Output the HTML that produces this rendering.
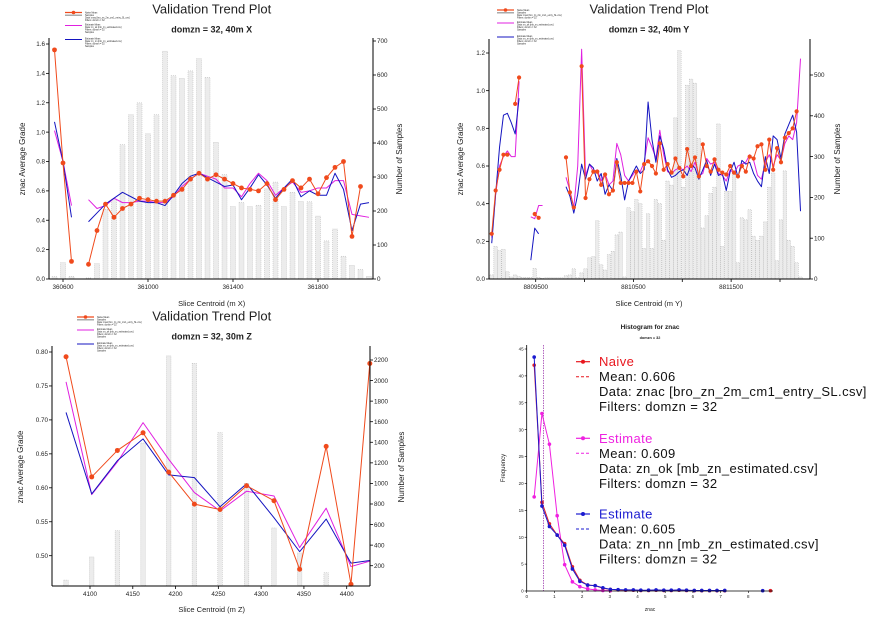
<!DOCTYPE html>
<html><head><meta charset="utf-8"><style>
html,body{margin:0;padding:0;background:#fff}
svg{display:block;font-family:"Liberation Sans",Arial,sans-serif}
</style></head><body>
<svg id="chart" width="876" height="618" viewBox="0 0 876 618" xmlns="http://www.w3.org/2000/svg">
<rect width="876" height="618" fill="#fff"/>
</svg>
<script>
// ---------- Panel 1 (X) data ----------
const p1Cats=[360560,360600,360640,360680,360720,360760,360800,360840,360880,360920,360960,361000,361040,361080,361120,361160,361200,361240,361280,361320,361360,361400,361440,361480,361520,361560,361600,361640,361680,361720,361760,361800,361840,361880,361920,361960,362000,362040];
const p1Bars=[7,48,8,0,3,45,205,235,395,483,518,427,483,670,598,590,612,648,593,402,307,213,225,213,217,265,285,213,255,228,227,185,112,147,67,40,28,8];
const p1Naive=[1.56,0.79,0.12,null,0.10,0.33,0.51,0.42,0.48,0.51,0.55,0.54,0.53,0.53,0.57,0.61,0.68,0.72,0.68,0.71,0.68,0.65,0.62,0.61,0.60,0.65,0.54,0.61,0.67,0.62,0.68,0.58,0.69,0.76,0.80,0.29,0.63,null];
const p1Ok=[1.01,0.80,0.50,null,0.54,0.48,0.50,0.55,0.52,0.52,0.53,0.53,0.52,0.52,0.56,0.63,0.68,0.72,0.70,0.68,0.62,0.62,0.56,0.65,0.72,0.67,0.57,0.62,0.66,0.59,0.60,0.62,0.62,0.67,0.67,0.44,0.43,0.42];
const p1Nn=[1.07,0.80,0.42,null,0.39,0.45,0.51,0.55,0.59,0.56,0.53,0.52,0.52,0.50,0.57,0.65,0.70,0.72,0.69,0.66,0.63,0.64,0.54,0.62,0.71,0.64,0.55,0.62,0.68,0.56,0.60,0.57,0.57,0.72,0.61,0.33,0.51,0.52];
const p1XTicks=[360600,361000,361400,361800];
const p1YTicks=[0,0.2,0.4,0.6,0.8,1.0,1.2,1.4,1.6];
const p1RTicks=[0,100,200,300,400,500,600,700];

// ---------- Panel 2 (Y) data ----------
const p2Cats=[8809050,8809090,8809130,8809170,8809210,8809250,8809290,8809330,8809370,8809410,8809450,8809490,8809530,8809570,8809610,8809650,8809690,8809730,8809770,8809810,8809850,8809890,8809930,8809970,8810010,8810050,8810090,8810130,8810170,8810210,8810250,8810290,8810330,8810370,8810410,8810450,8810490,8810530,8810570,8810610,8810650,8810690,8810730,8810770,8810810,8810850,8810890,8810930,8810970,8811010,8811050,8811090,8811130,8811170,8811210,8811250,8811290,8811330,8811370,8811410,8811450,8811490,8811530,8811570,8811610,8811650,8811690,8811730,8811770,8811810,8811850,8811890,8811930,8811970,8812010,8812050,8812090,8812130,8812170,8812210];
const p2Bars=[10,80,70,73,18,5,10,6,4,4,4,26,4,2,3,3,3,3,3,8,10,25,3,15,25,52,55,143,35,22,60,68,108,115,5,175,165,195,185,75,160,75,195,185,95,240,230,395,560,225,475,490,480,345,125,155,210,225,380,80,215,215,265,40,150,145,170,105,95,105,140,225,260,45,145,265,95,80,40,5];
const p2Naive=[0.24,0.47,0.58,0.66,0.66,null,0.93,1.07,null,null,null,0.345,0.325,null,null,null,null,null,null,0.646,0.46,0.38,null,1.13,0.43,0.53,0.57,0.57,0.50,0.555,0.45,0.47,0.62,0.51,0.51,0.51,0.51,0.57,0.465,0.61,0.625,0.60,0.56,0.72,0.58,0.61,0.565,0.64,0.59,0.545,0.69,0.60,0.645,0.545,0.715,0.60,0.57,0.635,0.58,0.565,0.555,0.60,0.565,0.545,0.60,0.57,0.65,0.64,0.705,0.715,0.58,0.74,0.58,0.695,0.62,0.75,0.775,0.80,0.89,null];
const p2Ok=[0.22,0.45,0.60,0.65,0.68,0.65,0.65,1.05,null,null,0.33,0.32,0.39,0.39,null,null,null,null,null,0.54,0.47,0.38,0.60,1.22,0.55,0.61,0.57,0.58,0.52,0.56,0.50,0.52,0.72,0.66,0.55,0.52,0.55,0.58,0.57,0.62,0.75,0.70,0.64,0.79,0.66,0.57,0.56,0.58,0.59,0.58,0.60,0.57,0.62,0.55,0.56,0.64,0.61,0.62,0.56,0.55,0.52,0.58,0.56,0.60,0.61,0.62,0.66,0.63,0.55,0.53,0.62,0.66,0.60,0.66,0.63,0.72,0.76,0.74,0.83,1.17];
const p2Nn=[0.19,0.45,0.70,0.87,0.88,0.83,0.77,0.96,null,null,0.10,0.27,0.24,null,null,null,null,null,null,0.49,0.44,0.35,0.45,0.61,0.53,0.61,0.59,0.52,0.56,0.45,0.50,0.47,0.64,0.55,0.42,0.52,0.56,0.60,0.56,0.58,0.94,0.74,0.62,0.76,0.69,0.58,0.54,0.55,0.57,0.58,0.55,0.61,0.59,0.53,0.58,0.63,0.55,0.61,0.55,0.56,0.47,0.57,0.62,0.54,0.63,0.61,0.62,0.56,0.52,0.49,0.65,0.56,0.76,0.74,0.64,0.77,0.82,0.87,0.78,0.36];
const p2XTicks=[8809500,8810000,8810500,8811000,8811500,8812000];
const p2XLabels=[8809500,8810500,8811500];
const p2YTicks=[0,0.2,0.4,0.6,0.8,1.0,1.2];
const p2RTicks=[0,100,200,300,400,500];

// ---------- Panel 3 (Z) data ----------
const p3Cats=[4072,4102,4132,4162,4192,4222,4252,4283,4315,4345,4376,4405,4427];
const p3Bars=[60,285,540,1393,2240,2168,1494,1001,567,324,132,20,0];
const p3Naive=[0.793,0.616,0.655,0.681,0.623,0.576,0.568,0.603,0.581,0.480,0.661,0.458,0.783];
const p3Ok=[0.756,0.590,0.638,0.696,0.642,0.593,0.566,0.595,0.588,0.512,0.570,0.484,0.492];
const p3Nn=[0.711,0.591,0.640,0.672,0.619,0.615,0.572,0.606,0.556,0.506,0.554,0.489,0.493];
const p3XTicks=[4100,4150,4200,4250,4300,4350,4400];
const p3YTicks=[0.50,0.55,0.60,0.65,0.70,0.75,0.80];
const p3RTicks=[200,400,600,800,1000,1200,1400,1600,1800,2000,2200];

// ---------- Panel 4 (histogram) data ----------
const hBins=[0.27,0.55,0.82,1.10,1.37,1.65,1.92,2.20,2.47,2.75,3.02,3.30,3.57,3.85,4.12,4.40,4.67,4.95,5.22,5.50,5.77,6.05,6.32,6.60,6.87,7.15,7.42,7.70,7.97,8.25,8.52,8.80];
const hNaive=[42,16.5,12.5,10.4,8.8,4.5,2.0,1.1,1.0,0.5,0.3,0.2,0.15,0.15,0.1,0.1,0.15,0.1,0.1,0.15,0.1,0.05,0.05,0.05,0.05,0.05,null,null,null,null,null,0.05];
const hOk=[17.5,33,27.3,14,4.9,1.7,0.8,0.4,0.2,0.1,0.05,null,null,null,null,null,null,null,null,null,null,null,null,null,null,null,null,null,null,null,null,null];
const hNn=[43.5,15.8,12.0,10.4,8.5,4.1,1.8,1.1,1.0,0.6,0.3,0.25,0.2,0.2,0.15,0.15,0.2,0.15,0.15,0.2,0.15,0.1,0.1,0.1,0.1,0.1,null,null,null,null,0.05,null];
const hMeans=[0.606,0.609,0.605];
const hXTicks=[0,1,2,3,4,5,6,7,8];
const hYTicks=[0,5,10,15,20,25,30,35,40,45];

const NS='http://www.w3.org/2000/svg';
const svg=document.getElementById('chart');
const RED='#f04a1c', MAG='#e020e0', BLUE='#1414c0';
function lin(d0,d1,r0,r1){return v=>r0+(v-d0)/(d1-d0)*(r1-r0);}
function mk(tag,attrs,nm,parent){
  const el=document.createElementNS(NS,tag);
  for(const k in attrs) el.setAttribute(k,attrs[k]);
  
  
  (parent||svg).appendChild(el);
  return el;
}
function txt(x,y,s,size,nm,o){
  o=o||{};
  const a={x:x,y:y,'font-size':size,fill:o.fill||'#222','text-anchor':o.anchor||'middle'};
  if(o.weight)a['font-weight']=o.weight;
  if(o.ls)a['letter-spacing']=o.ls;
  if(o.rot!==undefined)a.transform='rotate('+o.rot+' '+x+' '+y+')';
  const t=mk('text',a,nm,o.parent);
  t.textContent=s;
  return t;
}
function line(x1,y1,x2,y2,stroke,w,nm,parent,dash){
  const a={x1:x1,y1:y1,x2:x2,y2:y2,stroke:stroke,'stroke-width':w};
  if(dash)a['stroke-dasharray']=dash;
  return mk('line',a,nm,parent);
}
function series(cats,vals,xs,ys,color,nm,r,g){
  let d='',pen=false;
  for(let i=0;i<vals.length;i++){
    if(vals[i]===null){pen=false;continue;}
    d+=(pen?'L':'M')+xs(cats[i]).toFixed(2)+' '+ys(vals[i]).toFixed(2);
    pen=true;
  }
  mk('path',{d:d,fill:'none',stroke:color,'stroke-width':1,'stroke-linejoin':'round'},nm+'-line',g);
  if(r){
    for(let i=0;i<vals.length;i++){
      if(vals[i]===null)continue;
      mk('circle',{cx:xs(cats[i]),cy:ys(vals[i]),r:r,fill:color},nm+'-point',g);
    }
  }
}
function tinyLegend(x,y,g){
  const lg=mk('g',{},'series-legend',g);
  line(x,y,x+17,y,RED,1.2,'legend-naive-line',lg);
  mk('circle',{cx:x+8.5,cy:y,r:1.8,fill:RED},'legend-naive-marker',lg);
  mk('rect',{x:x,y:y+2,width:17,height:1.5,fill:'#aaa'},'legend-samples-swatch',lg);
  ['Naive Mean','Samples','Data: znac [bro_zn_2m_cm1_entry_SL.csv]','Filters: domzn = 32'].forEach((s,i)=>txt(x+20,y+1+i*2.5,s,2.3,'legend-naive-text',{anchor:'start',parent:lg}));
  line(x,y+13,x+17,y+13,MAG,1,'legend-ok-line',lg);
  ['Estimate Mean','Data: zn_ok [mb_zn_estimated.csv]','Filters: domzn = 32','Samples'].forEach((s,i)=>txt(x+20,y+13+i*2.5,s,2.3,'legend-ok-text',{anchor:'start',parent:lg}));
  line(x,y+27,x+17,y+27,BLUE,1,'legend-nn-line',lg);
  ['Estimate Mean','Data: zn_nn [mb_zn_estimated.csv]','Filters: domzn = 32','Samples'].forEach((s,i)=>txt(x+20,y+27+i*2.5,s,2.3,'legend-nn-text',{anchor:'start',parent:lg}));
}
function trend(P){
  const g=mk('g',{},P.name);
  const bg=mk('g',{},'sample-count-bars',g);
  const y0=P.yR(0);
  for(let i=0;i<P.cats.length;i++){
    if(!P.bars[i])continue;
    const yt=Math.max(P.yR(P.bars[i]),P.box.t);
    mk('rect',{x:P.x(P.cats[i])-P.bw/2,y:yt,width:P.bw,height:Math.max(0,y0-yt),fill:'#ececec',stroke:'#b4b4b4','stroke-width':0.5,'stroke-dasharray':'1 1'},'sample-bar',bg);
  }
  const sg=mk('g',{},'grade-series',g);
  series(P.cats,P.ok,P.x,P.yL,MAG,'estimate-ok',0,sg);
  series(P.cats,P.nn,P.x,P.yL,BLUE,'estimate-nn',0,sg);
  series(P.cats,P.naive,P.x,P.yL,RED,'naive',P.r,sg);
  const b=P.box;
  line(b.l,b.t,b.l,b.b,'#000',1,'left-axis',g);
  line(b.r,b.t,b.r,b.b,'#000',1,'right-axis',g);
  line(b.l,b.b,b.r,b.b,'#000',1,'x-axis',g);
  P.yT.forEach(v=>{const y=P.yL(v);line(b.l-3,y,b.l,y,'#000',0.8,'left-tick',g);
    txt(b.l-4,y+2.2,v.toFixed(P.yDec),6.3,'left-tick-label',{anchor:'end',parent:g});});
  P.rT.forEach(v=>{const y=P.yR(v);line(b.r,y,b.r+3,y,'#000',0.8,'right-tick',g);
    txt(b.r+4,y+2.2,String(v),6.3,'right-tick-label',{anchor:'start',parent:g});});
  P.xT.forEach(v=>{const x=P.x(v);line(x,b.b,x,b.b+3,'#000',0.8,'x-tick',g);});
  P.xL.forEach(v=>txt(P.x(v),b.b+10,String(v),6.3,'x-tick-label',{parent:g}));
  txt(P.cx,13.5+P.oy,'Validation Trend Plot',13,'chart-title',{parent:g});
  txt(P.cx,32.5+P.oy,P.sub,9,'chart-subtitle',{weight:'bold',parent:g});
  txt(P.lx,P.ly,'znac Average Grade',8,'y-axis-title',{rot:-90,parent:g});
  txt(P.rx,P.ly,'Number of Samples',8,'y2-axis-title',{rot:-90,parent:g});
  txt(P.cx,P.xy,P.xTitle,7.5,'x-axis-title',{parent:g});
  tinyLegend(P.lgx,P.lgy,g);
}
trend({name:'trend-plot-x',cats:p1Cats,bars:p1Bars,naive:p1Naive,ok:p1Ok,nn:p1Nn,
  x:lin(360600,361800,63,318),yL:lin(0,1.6,279,44),yR:lin(0,700,279,41),bw:5,r:2.4,
  box:{l:49,t:38,r:373,b:279},yT:p1YTicks,yDec:1,rT:p1RTicks,xT:p1XTicks,xL:p1XTicks,
  cx:211.7,oy:0,sub:'domzn = 32, 40m X',lx:25,ly:159,rx:402,xy:306,xTitle:'Slice Centroid (m X)',lgx:65,lgy:12.5});
trend({name:'trend-plot-y',cats:p2Cats,bars:p2Bars,naive:p2Naive,ok:p2Ok,nn:p2Nn,
  x:lin(8809500,8812000,535.7,780),yL:lin(0,1.2,279,53),yR:lin(0,500,279,75),bw:3.6,r:2.1,
  box:{l:489,t:39,r:810,b:279},yT:p2YTicks,yDec:1,rT:p2RTicks,xT:p2XTicks,xL:p2XLabels,
  cx:649,oy:0,sub:'domzn = 32, 40m Y',lx:463,ly:159,rx:840,xy:306,xTitle:'Slice Centroid (m Y)',lgx:497,lgy:10});
trend({name:'trend-plot-z',cats:p3Cats,bars:p3Bars,naive:p3Naive,ok:p3Ok,nn:p3Nn,
  x:lin(4100,4400,90,346.7),yL:lin(0.5,0.8,555.7,352),yR:lin(200,2200,565.7,360),bw:4.5,r:2.5,
  box:{l:52,t:346,r:370,b:586},yT:p3YTicks,yDec:2,rT:p3RTicks,xT:p3XTicks,xL:p3XTicks,
  cx:211.7,oy:307,sub:'domzn = 32, 30m Z',lx:23,ly:467,rx:404,xy:612,xTitle:'Slice Centroid (m Z)',lgx:77,lgy:317});

// ---------- Histogram ----------
(function(){
  const g=mk('g',{},'histogram-plot');
  const x=lin(0,8,526.7,748.3), y=lin(0,45,591,349);
  const box={l:526.7,t:345,r:773,b:591};
  const mg=mk('g',{},'mean-lines',g);
  const mAvg=(hMeans[0]+hMeans[1]+hMeans[2])/3;
  line(x(mAvg),box.t,x(mAvg),box.b,'#a040b0',0.8,'mean-line',mg,'1.5 1');
  series(hBins,hOk,x,y,'#f020e0','estimate-ok',1.8,g);
  series(hBins,hNaive,x,y,'#e0202a','naive',1.8,g);
  series(hBins,hNn,x,y,'#1a1ad0','estimate-nn',1.8,g);
  line(box.l,box.t,box.l,box.b,'#000',0.8,'y-axis',g);
  line(box.l,box.b,box.r,box.b,'#000',0.8,'x-axis',g);
  hYTicks.forEach(v=>{const yy=y(v);line(box.l-2,yy,box.l,yy,'#000',0.6,'y-tick',g);
    txt(box.l-3,yy+1.6,String(v),4.5,'y-tick-label',{anchor:'end',parent:g});});
  hXTicks.forEach(v=>{const xx=x(v);line(xx,box.b,xx,box.b+2,'#000',0.6,'x-tick',g);
    txt(xx,box.b+7,String(v),4.5,'x-tick-label',{parent:g});});
  txt(650,329,'Histogram for znac',6.5,'chart-title',{weight:'bold',parent:g});
  txt(650,339,'domzn = 32',3.8,'chart-subtitle',{weight:'bold',parent:g});
  txt(650,611,'znac',5,'x-axis-title',{parent:g});
  txt(505,468,'Frequency',6,'y-axis-title',{rot:-90,parent:g});
  const lg=mk('g',{},'legend',g);
  const blocks=[{c:'#e8161e',y:361.7,t:['Naive','Mean: 0.606','Data: znac [bro_zn_2m_cm1_entry_SL.csv]','Filters: domzn = 32']},
    {c:'#ee22e0',y:438.3,t:['Estimate','Mean: 0.609','Data: zn_ok [mb_zn_estimated.csv]','Filters: domzn = 32']},
    {c:'#1a1ad0',y:514,t:['Estimate','Mean: 0.605','Data: zn_nn [mb_zn_estimated.csv]','Filters: domzn = 32']}];
  blocks.forEach(b=>{
    line(576,b.y,590,b.y,b.c,1.2,'legend-line',lg);
    mk('circle',{cx:583,cy:b.y,r:2,fill:b.c},'legend-marker',lg);
    line(576,b.y+15,590,b.y+15,b.c,1,'legend-mean-dash',lg,'3 2');
    b.t.forEach((s,i)=>txt(599,b.y+4.5+i*15,s,13,'legend-text',{anchor:'start',ls:0.4,fill:i===0?b.c:'#111',parent:lg}));
  });
})();
</script>
</body></html>
